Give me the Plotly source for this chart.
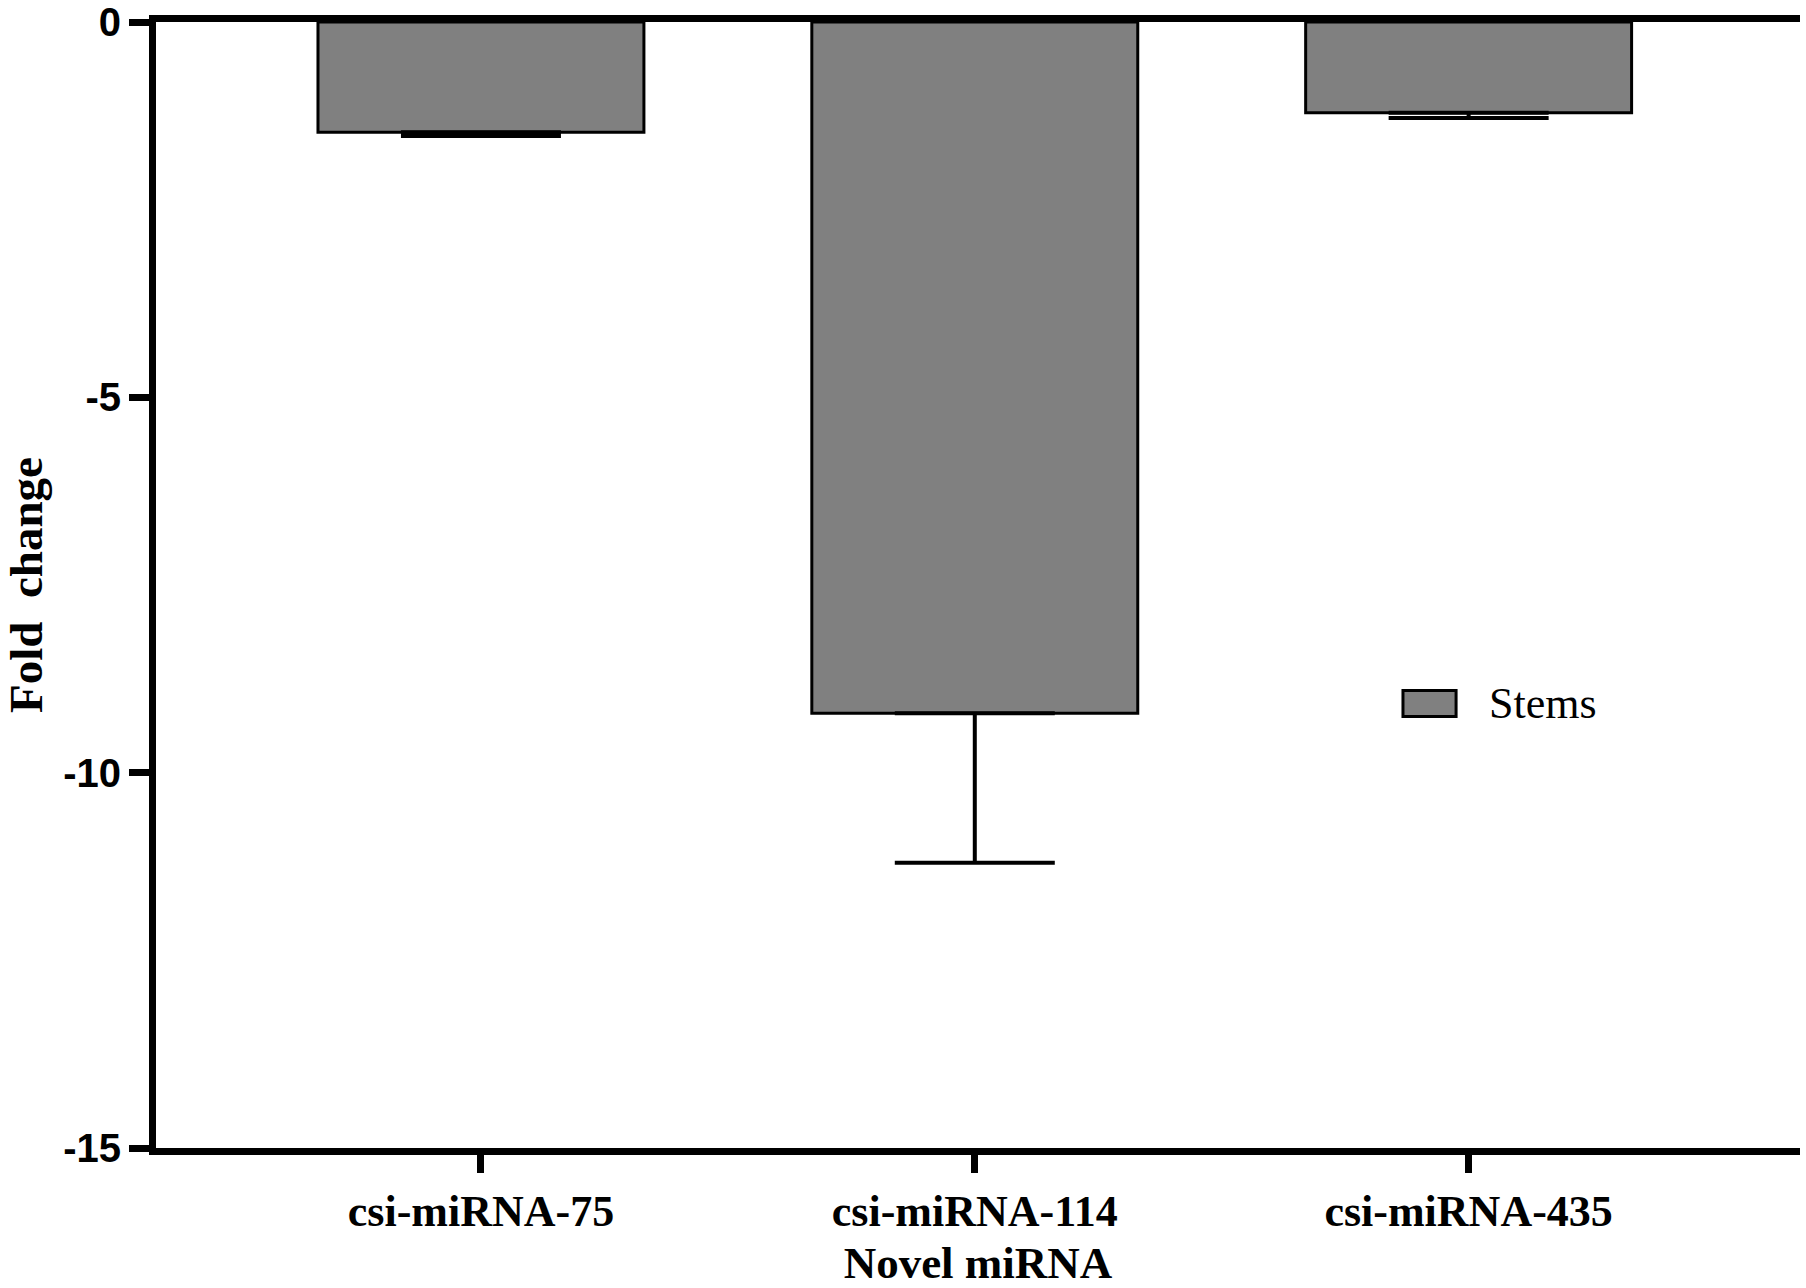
import plotly.graph_objects as go

categories = ["csi-miRNA-75", "csi-miRNA-114", "csi-miRNA-435"]
fold_change = [-1.47, -9.21, -1.21]
err_down = [0.05, 1.99, 0.07]
err_up = [0, 0, 0]
y_ticks = [0, -5, -10, -15]
series_name = "Stems"

fig = go.Figure()
fig.add_trace(go.Bar(
    x=categories, y=fold_change, name=series_name,
    width=0.66,
    marker=dict(color="#808080", line=dict(color="black", width=3)),
    error_y=dict(type="data", symmetric=False, array=err_up, arrayminus=err_down,
                 color="black", thickness=4, width=80),
    showlegend=False,
))

# legend drawn manually to match the large key
fig.add_shape(type="rect", xref="paper", yref="paper",
              x0=0.7585, x1=0.7908, y0=0.3833, y1=0.4064,
              fillcolor="#808080", line=dict(color="black", width=3))
fig.add_annotation(xref="paper", yref="paper", x=0.8095, y=0.3949, text=series_name,
                   showarrow=False, xanchor="left", yanchor="middle",
                   font=dict(family="Liberation Serif, Times New Roman", size=44, color="black"))

fig.update_layout(
    width=1806, height=1288,
    margin=dict(l=156, r=6, t=22, b=140),
    plot_bgcolor="white", paper_bgcolor="white",
)
fig.update_xaxes(
    range=[-0.658, 2.671], automargin=False,
    showline=True, linecolor="black", linewidth=7, mirror=True,
    ticks="outside", ticklen=18, tickwidth=7, tickcolor="black",
    showgrid=False, zeroline=False,
    tickfont=dict(family="Liberation Serif, Times New Roman", size=44, color="black", weight="bold"),
    ticklabelstandoff=0,
    title=dict(text="Novel miRNA", standoff=22,
               font=dict(family="Liberation Serif, Times New Roman", size=45, color="black", weight="bold")),
)
fig.update_yaxes(
    range=[-15, 0], tickvals=y_ticks, ticktext=[str(v) for v in y_ticks],
    automargin=False, ticklabeloverflow="allow",
    showline=True, linecolor="black", linewidth=7,
    ticks="outside", ticklen=20, tickwidth=7, tickcolor="black",
    showgrid=False, zeroline=False,
    tickfont=dict(family="Liberation Sans, Arial", size=40, color="black", weight="bold"),
    ticklabelstandoff=0,
    title=dict(text="Fold\u00a0 change", standoff=28,
               font=dict(family="Liberation Serif, Times New Roman", size=47, color="black", weight="bold")),
)

fig.write_html("out.html", config={"displayModeBar": False},
               post_script="document.body.style.margin='0';document.body.style.overflow='hidden';")
